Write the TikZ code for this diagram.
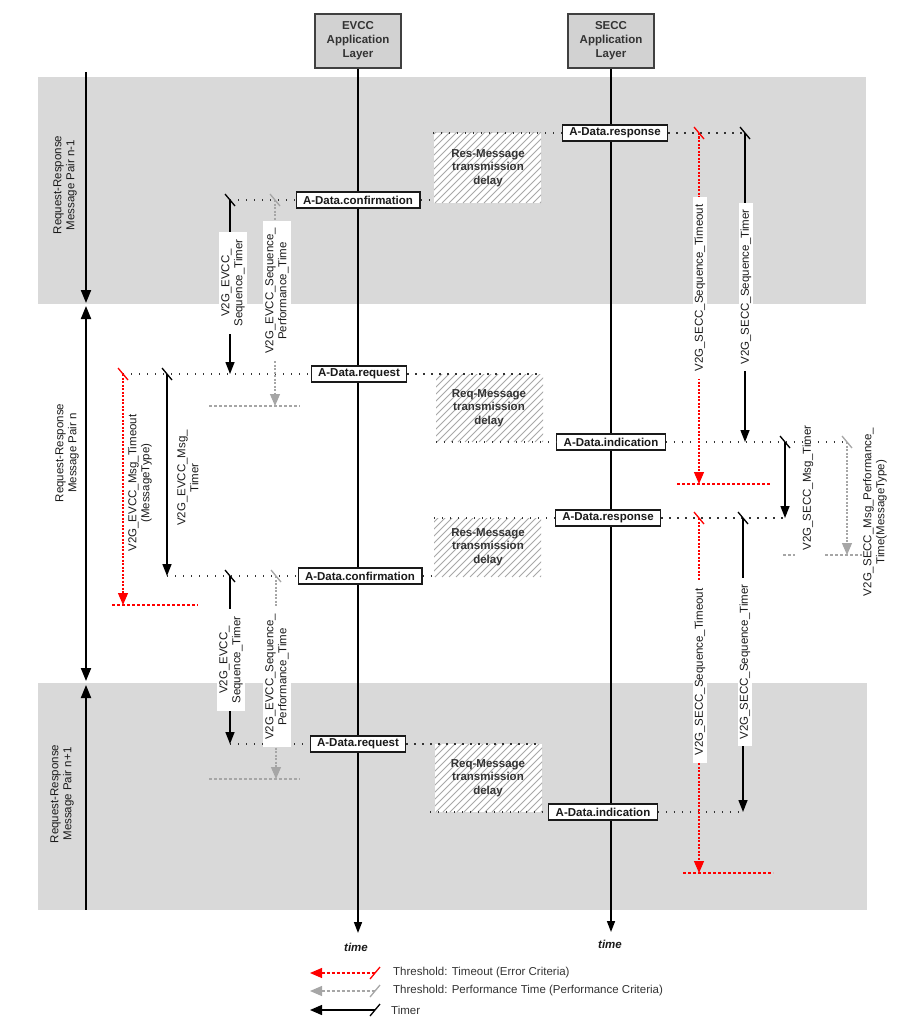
\documentclass[tikz,border=0pt]{standalone}
\usepackage{fontspec}
\setmainfont{Liberation Sans}
\usetikzlibrary{arrows.meta}
\definecolor{band}{HTML}{D9D9D9}
\definecolor{hdr}{HTML}{D2D2D2}
\definecolor{perf}{HTML}{A6A6A6}
\definecolor{hatchc}{HTML}{A8A8A8}
\definecolor{ink}{HTML}{1A1A1A}
\tikzset{
  lbl/.style={font=\fontsize{11.5}{13}\selectfont, align=center, inner sep=1pt, text=ink},
  rlbl/.style={lbl, rotate=90},
  wlbl/.style={rlbl, fill=white, inner xsep=7pt, inner ysep=2pt},
  msgbox/.style={draw=ink, line width=1.1pt, fill=white, font=\bfseries\fontsize{11.5}{12}\selectfont, inner xsep=7pt, inner ysep=0pt, minimum height=16pt, text=ink},
  hdrbox/.style={draw=black!75, line width=1.1pt, fill=hdr, font=\bfseries\fontsize{11.5}{14}\selectfont, align=center, minimum width=86pt, minimum height=54pt, text=black!80},
  htxt/.style={font=\bfseries\fontsize{11.5}{13.5}\selectfont, align=center, text=black!80, inner sep=0pt},
  msgline/.style={line width=1.2pt, dash pattern=on 1.3pt off 6.7pt, black!80},
  lifeline/.style={line width=1.6pt, -{Triangle[length=11pt,width=8pt]}},
  bigarrow/.style={line width=2pt},
  timer/.style={line width=1.4pt, -{Triangle[length=12pt,width=9pt]}},
  tout/.style={red, line width=1.2pt, dash pattern=on 2pt off 1.5pt, -{Triangle[length=12pt,width=10pt]}},
  toutline/.style={red, line width=1.2pt, dash pattern=on 3pt off 2pt},
  ptime/.style={perf, line width=1.2pt, dash pattern=on 2pt off 1.5pt, -{Triangle[length=12pt,width=10pt]}},
  ptimeline/.style={perf, line width=1.2pt, dash pattern=on 3pt off 2pt},
  tickb/.style={line width=1.3pt, black},
  tickr/.style={line width=1.3pt, red},
  tickg/.style={line width=1.3pt, perf},
  legtxt/.style={font=\fontsize{11.5}{12}\selectfont, text=black!80, anchor=west, inner sep=0pt},
}
\begin{document}
\begin{tikzpicture}[x=1pt,y=-1pt]
\useasboundingbox (0,0) rectangle (900,1022);
% bands
\fill[band] (38,77) rectangle (866,304);
\fill[band] (38,683) rectangle (867,910);
% hatches
\foreach \xa/\ya/\xb/\yb in {434/133/541/203, 436/374/543/442, 434/518/541/577, 435/744/542/812}{
  \begin{scope}
  \clip (\xa,\ya) rectangle (\xb,\yb);
  \fill[white] (\xa,\ya) rectangle (\xb,\yb);
  \foreach \k in {0,7,...,203} \draw[hatchc, line width=1pt] (\xa-90+\k,\yb) -- ++(90,-90);
  \end{scope}
}
\node[htxt] (h1) at (488,168) {Res-Message\\transmission\\delay};
\node[htxt] (h2) at (489,408) {Req-Message\\transmission\\delay};
\node[htxt] (h3) at (488,547) {Res-Message\\transmission\\delay};
\node[htxt] (h4) at (488,778) {Req-Message\\transmission\\delay};

% headers and lifelines
\node[hdrbox] (evcc) at (358,41) {EVCC\\Application\\Layer};
\node[hdrbox] (secc) at (611,41) {SECC\\Application\\Layer};
\coordinate (evccEnd) at (358,933);
\coordinate (seccEnd) at (611,932);
\draw[lifeline] (evcc.south) -- (evccEnd);
\draw[lifeline] (secc.south) -- (seccEnd);
\node[font=\bfseries\itshape\fontsize{11.5}{12}\selectfont, text=ink] (t1) at (356,947) {time};
\node[font=\bfseries\itshape\fontsize{11.5}{12}\selectfont, text=ink] (t2) at (610,944) {time};

% left pair arrows
\coordinate (a1s) at (86,72);
\coordinate (a1e) at (86,303);
\coordinate (a2s) at (86,306);
\coordinate (a2e) at (86,681);
\coordinate (a3s) at (86,685);
\coordinate (a3e) at (86,910);
\draw[bigarrow, -{Triangle[length=13pt,width=10pt]}] (a1s) -- (a1e);
\draw[bigarrow, {Triangle[length=13pt,width=10pt]}-{Triangle[length=13pt,width=10pt]}] (a2s) -- (a2e);
\draw[bigarrow, {Triangle[length=13pt,width=10pt]}-] (a3s) -- (a3e);
\node[rlbl] (p1) at (65,185) {Request-Response\\Message Pair n-1};
\node[rlbl] (p2) at (67,453) {Request-Response\\Message Pair n};
\node[rlbl] (p3) at (62,794) {Request-Response\\Message Pair n+1};

% coordinates on message lines
\coordinate (c1a) at (433,133); \coordinate (c1r) at (699,133); \coordinate (c1b) at (745,133);
\coordinate (c2b) at (230,200); \coordinate (c2g) at (275,200); \coordinate (c2e) at (434,200);
\coordinate (c3r) at (123,374); \coordinate (c3b) at (167,374); \coordinate (c3t) at (230,374); \coordinate (c3e) at (543,374);
\coordinate (c4s) at (436,442); \coordinate (c4t) at (745,442); \coordinate (c4b) at (785,442); \coordinate (c4g) at (847,442);
\coordinate (c5s) at (434,518); \coordinate (c5r) at (699,518); \coordinate (c5b) at (743,518); \coordinate (c5e) at (785,518);
\coordinate (c6s) at (167,576); \coordinate (c6b) at (230,576); \coordinate (c6g) at (276,576); \coordinate (c6e) at (434,576);
\coordinate (c7s) at (230,744); \coordinate (c7e) at (542,744);
\coordinate (c8s) at (430,812); \coordinate (c8e) at (743,812);

% threshold end coordinates
\coordinate (g1) at (275,406); \coordinate (g1a) at (209,406); \coordinate (g1b) at (300,406);
\coordinate (r1) at (123,605); \coordinate (r1a) at (112,605); \coordinate (r1b) at (198,605);
\coordinate (g2) at (276,779); \coordinate (g2a) at (209,779); \coordinate (g2b) at (300,779);
\coordinate (r2) at (699,484); \coordinate (r2a) at (677,484); \coordinate (r2b) at (770,484);
\coordinate (g3) at (847,555); \coordinate (g3a) at (783,555); \coordinate (g3b) at (795,555); \coordinate (g3c) at (825,555); \coordinate (g3d) at (862,555);
\coordinate (r3) at (699,873); \coordinate (r3a) at (683,873); \coordinate (r3b) at (773,873);

% message boxes
\node[msgbox] (m1) at (615,133) {A-Data.response};
\node[msgbox] (m2) at (358,200) {A-Data.confirmation};
\node[msgbox] (m3) at (359,374) {A-Data.request};
\node[msgbox] (m4) at (611,442) {A-Data.indication};
\node[msgbox] (m5) at (608,518) {A-Data.response};
\node[msgbox] (m6) at (360,576) {A-Data.confirmation};
\node[msgbox] (m7) at (358,744) {A-Data.request};
\node[msgbox] (m8) at (603,812) {A-Data.indication};

% dotted message lines
\draw[msgline] (c1a) -- (m1); \draw[msgline] (m1) -- (c1b);
\draw[msgline] (c2b) -- (m2); \draw[msgline] (m2) -- (c2e);
\draw[msgline] (c3r) -- (m3); \draw[msgline] (m3) -- (c3e);
\draw[msgline] (c4s) -- (m4); \draw[msgline] (m4) -- (c4g);
\draw[msgline] (c5s) -- (m5); \draw[msgline] (m5) -- (c5e);
\draw[msgline] (c6s) -- (m6); \draw[msgline] (m6) -- (c6e);
\draw[msgline] (c7s) -- (m7); \draw[msgline] (m7) -- (c7e);
\draw[msgline] (c8s) -- (m8); \draw[msgline] (m8) -- (c8e);

% timers and thresholds
\draw[timer] (c2b) -- (c3t);
\draw[ptime] (c2g) -- (g1); \draw[ptimeline] (g1a) -- (g1b);
\draw[tout] (c3r) -- (r1); \draw[toutline] (r1a) -- (r1b);
\draw[timer] (c3b) -- (c6s);
\draw[timer] (c6b) -- (c7s);
\draw[ptime] (c6g) -- (g2); \draw[ptimeline] (g2a) -- (g2b);
\draw[tout] (c1r) -- (r2); \draw[toutline] (r2a) -- (r2b);
\draw[timer] (c1b) -- (c4t);
\draw[timer] (c4b) -- (c5e);
\draw[ptime] (c4g) -- (g3); \draw[ptimeline] (g3a) -- (g3b); \draw[ptimeline] (g3c) -- (g3d);
\draw[tout] (c5r) -- (r3); \draw[toutline] (r3a) -- (r3b);
\draw[timer] (c5b) -- (c8e);

% ticks
\draw[tickb] (c2b) +(-5,-6) -- +(5,6);
\draw[tickg] (c2g) +(-5,-6) -- +(5,6);
\draw[tickr] (c3r) +(-5,-6) -- +(5,6);
\draw[tickb] (c3b) +(-5,-6) -- +(5,6);
\draw[tickb] (c6b) +(-5,-6) -- +(5,6);
\draw[tickg] (c6g) +(-5,-6) -- +(5,6);
\draw[tickr] (c1r) +(-5,-6) -- +(5,6);
\draw[tickb] (c1b) +(-5,-6) -- +(5,6);
\draw[tickb] (c4b) +(-5,-6) -- +(5,6);
\draw[tickg] (c4g) +(-5,-6) -- +(5,6);
\draw[tickr] (c5r) +(-5,-6) -- +(5,6);
\draw[tickb] (c5b) +(-5,-6) -- +(5,6);

% timer labels
\node[wlbl] (l1) at (233,283) {V2G\_EVCC\_\\Sequence\_Timer};
\node[wlbl] (l2) at (277,291) {V2G\_EVCC\_Sequence\_\\Performance\_Time};
\node[rlbl] (l3) at (140,483) {V2G\_EVCC\_Msg\_Timeout\\(MessageType)};
\node[rlbl] (l4) at (188,478) {V2G\_EVCC\_Msg\_\\Timer};
\node[wlbl] (l5) at (231,660) {V2G\_EVCC\_\\Sequence\_Timer};
\node[wlbl] (l6) at (277,677) {V2G\_EVCC\_Sequence\_\\Performance\_Time};
\node[wlbl] (l7) at (700,288) {V2G\_SECC\_Sequence\_Timeout};
\node[wlbl] (l8) at (746,287) {V2G\_SECC\_Sequence\_Timer};
\node[rlbl] (l9) at (808,488) {V2G\_SECC\_Msg\_Timer};
\node[rlbl] (l10) at (875,512) {V2G\_SECC\_Msg\_Performance\_\\Time(MessageType)};
\node[wlbl] (l11) at (700,672) {V2G\_SECC\_Sequence\_Timeout};
\node[wlbl] (l12) at (745,662) {V2G\_SECC\_Sequence\_Timer};

% legend
\coordinate (lr1) at (310,973); \coordinate (lr2) at (375,973);
\coordinate (lg1) at (310,991); \coordinate (lg2) at (375,991);
\coordinate (lb1) at (310,1010); \coordinate (lb2) at (375,1010);
\draw[red, line width=1.2pt, dash pattern=on 3pt off 2pt, {Triangle[length=12pt,width=10pt]}-] (lr1) -- (lr2);
\draw[tickr] (lr2) +(-5,6) -- +(5,-6);
\draw[perf, line width=1.2pt, dash pattern=on 3pt off 2pt, {Triangle[length=12pt,width=10pt]}-] (lg1) -- (lg2);
\draw[tickg] (lg2) +(-5,6) -- +(5,-6);
\draw[line width=1.4pt, {Triangle[length=12pt,width=10pt]}-] (lb1) -- (lb2);
\draw[tickb] (lb2) +(-5,6) -- +(5,-6);
\node[legtxt] (lt1) at (393,973) {Threshold: Timeout (Error Criteria)};
\node[legtxt] (lt2) at (393,991) {Threshold: Performance Time (Performance Criteria)};
\node[legtxt] (lt3) at (391,1010) {Timer};
\end{tikzpicture}
\end{document}
